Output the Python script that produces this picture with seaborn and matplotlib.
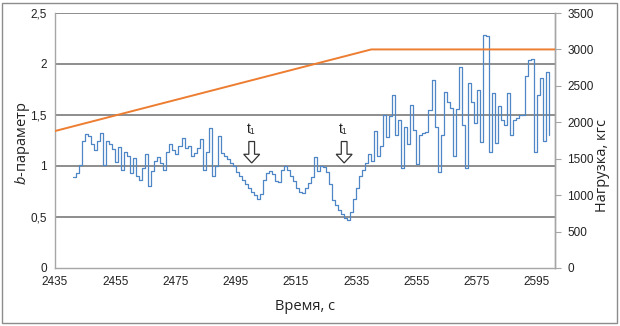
import matplotlib
matplotlib.use("Agg")
import matplotlib.pyplot as plt
from matplotlib.patches import FancyArrow, Rectangle
import seaborn as sns

# b-parameter, one reading per second
time_s = list(range(2441, 2600))
b_param = [
    0.89, 0.93, 1.01, 1.25, 1.31, 1.29, 1.22, 1.16, 1.25, 1.32,   # 2441-2450
    1.01, 1.25, 1.22, 1.17, 1.04, 1.19, 0.96, 1.14, 1.10, 0.93,   # 2451-2460
    1.08, 0.90, 0.86, 0.98, 1.12, 0.80, 0.95, 1.05, 1.09, 1.03,   # 2461-2470
    0.96, 1.14, 1.22, 1.16, 1.12, 1.20, 1.27, 1.18, 1.20, 1.10,   # 2471-2480
    1.13, 1.18, 1.26, 0.96, 1.14, 1.37, 0.90, 1.00, 1.29, 1.13,   # 2481-2490
    1.10, 1.07, 1.03, 1.00, 0.94, 0.90, 0.86, 0.82, 0.78, 0.75,   # 2491-2500
    0.72, 0.68, 0.73, 0.86, 0.93, 0.95, 0.92, 0.85, 0.84, 0.96,   # 2501-2510
    1.00, 0.96, 0.90, 0.85, 0.78, 0.75, 0.74, 0.78, 0.83, 0.89,   # 2511-2520
    1.09, 0.95, 1.00, 0.99, 0.94, 0.82, 0.67, 0.62, 0.57, 0.53,   # 2521-2530
    0.49, 0.47, 0.55, 0.68, 0.78, 0.90, 0.96, 1.03, 1.12, 1.05,   # 2531-2540
    1.34, 1.10, 1.20, 1.50, 1.28, 1.49, 1.70, 1.30, 1.45, 0.98,   # 2541-2550
    1.38, 1.22, 1.60, 1.35, 1.02, 1.30, 1.32, 1.33, 1.55, 1.84,   # 2551-2560
    1.38, 0.94, 1.30, 1.73, 1.63, 1.57, 1.10, 1.56, 1.97, 1.40,   # 2561-2570
    0.98, 1.81, 1.63, 1.42, 1.75, 1.24, 2.28, 2.27, 1.14, 1.72,   # 2571-2580
    1.23, 1.59, 1.45, 1.40, 1.72, 1.30, 1.45, 1.47, 1.50, 1.50,   # 2581-2590
    1.88, 2.04, 2.05, 1.14, 1.70, 1.86, 1.25, 1.92, 1.30,         # 2591-2599
]

# load programme, kgf
load_time = [2435, 2540, 2601]
load_kgf = [1880, 3000, 3000]

# moments marked t1
marks_t = [2500.3, 2531.0]
mark_label = "t₁"

x_ticks = [2435, 2455, 2475, 2495, 2515, 2535, 2555, 2575, 2595]
b_ticks = [0, 0.5, 1, 1.5, 2, 2.5]
b_tick_labels = ["0", "0,5", "1", "1,5", "2", "2,5"]
load_ticks = [0, 500, 1000, 1500, 2000, 2500, 3000, 3500]

sns.set_theme(style="white")
plt.rcParams["font.family"] = ["Liberation Sans", "DejaVu Sans"]
plt.rcParams["mathtext.fontset"] = "custom"
plt.rcParams["mathtext.it"] = "Open Sans:italic"
plt.rcParams["mathtext.rm"] = "Open Sans"

blue = "#4f86c6"
orange = "#ED7D31"
grid_c = "#858585"
spine_c = "#a6a6a6"

fig = plt.figure(figsize=(6.2, 3.26), dpi=100)
ax = fig.add_axes([55 / 620, 1 - 268 / 326, 500 / 620, 255 / 326])

# horizontal grid
for v in b_ticks[1:]:
    ax.axhline(v, color=grid_c, lw=1.3, zorder=1)

sns.lineplot(x=time_s, y=b_param, ax=ax, color=blue, lw=0.9,
             drawstyle="steps-post", estimator=None, zorder=3)

ax.set_xlim(2435, 2601)
ax.set_ylim(0, 2.5)
ax.set_xticks(x_ticks)
ax.set_xticklabels([str(t) for t in x_ticks], fontsize=8.5, color="#222222")
ax.set_yticks(b_ticks)
ax.set_yticklabels(b_tick_labels, fontsize=8.5, color="#222222")
ax.tick_params(axis="both", length=0)
ax.tick_params(axis="x", pad=6)
ax.tick_params(axis="y", pad=6)
ax.set_xlabel("")
ax.set_ylabel("")
for side in ("left", "bottom", "right"):
    ax.spines[side].set_color(spine_c)
    ax.spines[side].set_linewidth(1.0)
ax.spines["top"].set_visible(False)

# arrows with t1 labels
for t in marks_t:
    arr = FancyArrow(t, 1.24, 0, -0.21, width=1.9, head_width=5.3,
                     head_length=0.085, length_includes_head=True,
                     fc="white", ec="#333333", lw=0.9, zorder=4)
    ax.add_patch(arr)
    ax.text(t - 0.3, 1.36, mark_label, ha="center", va="center",
            fontsize=10, color="#222222",
            family=["Liberation Sans", "DejaVu Sans"], zorder=4)

ax2 = ax.twinx()
sns.lineplot(x=load_time, y=load_kgf, ax=ax2, color=orange, lw=1.4,
             estimator=None, zorder=3)
ax2.set_ylim(0, 3500)
ax2.set_yticks(load_ticks)
ax2.set_yticklabels([str(v) for v in load_ticks], fontsize=8.5, color="#222222")
ax2.tick_params(axis="y", length=4, width=0.8, color=spine_c, pad=5)
ax2.set_ylabel("")
for side in ("left", "bottom", "top"):
    ax2.spines[side].set_visible(False)
ax2.spines["right"].set_color(spine_c)
ax2.spines["right"].set_linewidth(1.0)

# axis titles
fig.text(305 / 620, 1 - 306 / 326, "Время, с", ha="center", va="center",
         fontsize=10.5, family="Open Sans", color="#222222")
fig.text(22 / 620, 1 - 143 / 326, r"$\mathit{b}$-параметр", ha="center",
         va="center", rotation=90, fontsize=10.5, family="Open Sans",
         color="#222222")
fig.text(603 / 620, 1 - 166 / 326, "Нагрузка, кгс", ha="center",
         va="center", rotation=90, fontsize=10.5, family="Open Sans",
         color="#222222")

# outer frame
fig.add_artist(Rectangle((2 / 620, 3 / 326), 615 / 620, 320 / 326,
                         transform=fig.transFigure, fill=False,
                         ec="#8c8c8c", lw=1.0))

fig.savefig("out.png", dpi=100)
